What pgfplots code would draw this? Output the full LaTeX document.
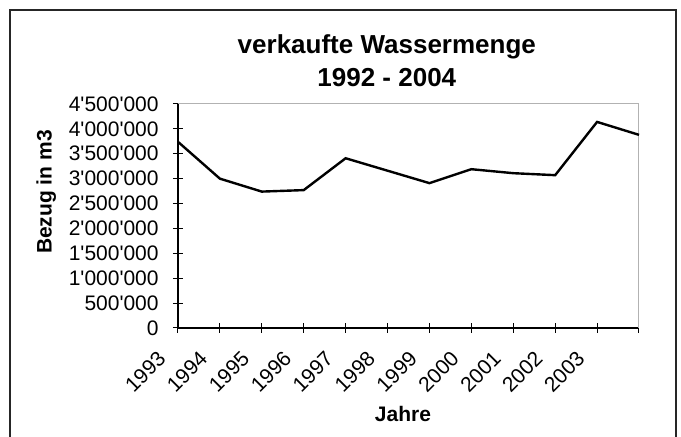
\documentclass[border=0pt]{standalone}
\usepackage{fontspec}
\setmainfont{Liberation Sans}
\usepackage{pgfplots}
\pgfplotsset{compat=1.18}
\newcommand\q{\textquotesingle}
\begin{document}
\begin{tikzpicture}
\path[use as bounding box] (0,0) rectangle (340.5pt,218.5pt);
\draw[line width=0.7pt, black!85] (5pt,0pt) -- (5pt,213.5pt) -- (338pt,213.5pt) -- (338pt,0pt);
\begin{axis}[
  at={(89pt,54.5pt)}, anchor=south west,
  scale only axis, width=230.5pt, height=112pt,
  xmin=0, xmax=11, ymin=0, ymax=4500000,
  xtick={0,1,2,3,4,5,6,7,8,9,10,11},
  xticklabels={1993,1994,1995,1996,1997,1998,1999,2000,2001,2002,2003,{}},
  ytick={0,500000,1000000,1500000,2000000,2500000,3000000,3500000,4000000,4500000},
  yticklabels={0,500\q000,1\q000\q000,1\q500\q000,2\q000\q000,2\q500\q000,3\q000\q000,3\q500\q000,4\q000\q000,4\q500\q000},
  scaled y ticks=false,
  axis lines=left, axis line style={black, line width=0.7pt, -},
  tick align=center, major tick length=5pt,
  tick style={black, line width=0.5pt},
  ticklabel style={font=\fontsize{10.5}{12}\selectfont},
  yticklabel style={anchor=east, inner sep=0pt, xshift=-7pt},
  xticklabel style={xshift=-8pt, yshift=-11pt, anchor=east, inner sep=0pt, rotate=45},
  title={verkaufte Wassermenge\\1992 - 2004},
  title style={align=center, font=\bfseries\fontsize{13}{16.5}\selectfont, at={(axis description cs:0.453,1)}, anchor=south, inner sep=0pt, yshift=2.5pt},
  ylabel={Bezug in m3},
  ylabel style={font=\bfseries\fontsize{10.5}{12}\selectfont, at={(axis description cs:-0.286,0.607)}, anchor=center, rotate=0},
  xlabel={Jahre},
  xlabel style={font=\bfseries\fontsize{10.5}{12}\selectfont, at={(axis description cs:0.488,-0.384)}, anchor=center},
  clip=false,
]
\draw[gray!60, line width=0.5pt] (rel axis cs:0,1) -- (rel axis cs:1,1) -- (rel axis cs:1,0);
\addplot[black, line width=1.2pt, mark=none] coordinates {
(0,3740000) (1,3000000) (2,2740000) (3,2770000) (4,3410000) (5,3160000)
(6,2910000) (7,3190000) (8,3110000) (9,3070000) (10,4140000) (11,3880000)
};
\end{axis}
\end{tikzpicture}
\end{document}
